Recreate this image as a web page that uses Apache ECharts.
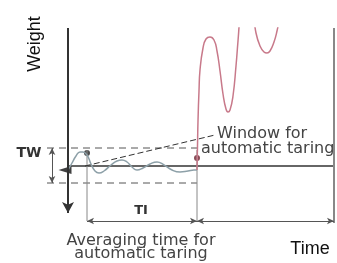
<!DOCTYPE html>
<html lang="en">
<head>
  <meta charset="UTF-8">
  <title>Automatic taring</title>
</head>
<body style="margin:0; background-color:#fff;">
<div id="main" style="width:337px; height:263px;"></div>

<script src="https://cdn.jsdelivr.net/npm/echarts@6/dist/echarts.min.js"></script>

<script>
// x = time, y = weight (baseline / tare level = 0)
var grayWave = [
  [0, -4], [4, 3], [8, 10], [12, 14], [15, 14], [19, 11], [23, 2], [27, -5], [31, -7],
  [36, -5], [43, 1], [49, 5], [54, 6], [59, 4], [64, -1], [69, -4], [75, -2], [82, 2],
  [89, 4], [96, 1], [104, -4], [112, -6], [120, -5], [126, -4], [129, -4]
];
var loadCurve = [
  [129, -4], [129.5, 20], [130, 45], [131, 75], [132, 96], [135, 118], [138, 127], [142, 129],
  [146, 126], [149, 115], [152, 95], [155, 72], [158, 57], [160, 54], [162, 56], [165, 70],
  [168, 100], [170, 125], [173, 160], [177, 182], [181, 182], [185, 155], [188, 133], [192, 120],
  [196, 114], [199, 113], [202, 115], [206, 124], [209, 135], [212, 150], [216, 175]
];
var tareBand = [18, -17];     // window for automatic taring (TW)
var windowStart = 19;         // start of averaging time (TI)
var windowEnd = 129;          // end of averaging time
var timeEnd = 266;
var axisTop = 138;
var axisBottom = -47;
var spanLevel = -55;
var startDot = [19, 13];
var endDot = [129, 8];
var tareMark = [-3, -4];
var leader = [[17, 0], [147, 31]];

function seg(name, pts, color, width, type) {
  return {
    name: name, type: 'line', data: pts, symbol: 'none', silent: true,
    lineStyle: { color: color, width: width, type: type || 'solid' }
  };
}

var chart = echarts.init(document.getElementById('main'));

var option = {
  backgroundColor: '#fff',
  animation: false,
  grid: { left: 43, right: 3, top: 28, bottom: 37 },
  xAxis: {
    type: 'value', min: -25, max: timeEnd,
    axisLine: { show: false }, axisTick: { show: false },
    axisLabel: { show: false }, splitLine: { show: false }
  },
  yAxis: {
    type: 'value', min: -60, max: axisTop,
    axisLine: { show: false }, axisTick: { show: false },
    axisLabel: { show: false }, splitLine: { show: false }
  },
  series: [
    seg('baseline', [[0, 0], [timeEnd, 0]], '#333', 1.5),
    seg('twTop', [[-21, tareBand[0]], [windowEnd, tareBand[0]]], '#555', 1, [7, 5]),
    seg('twBottom', [[-21, tareBand[1]], [windowEnd, tareBand[1]]], '#555', 1, [7, 5]),
    seg('tiStart', [[windowStart, 16], [windowStart, spanLevel]], '#888', 1),
    seg('tiEnd', [[windowEnd, 16], [windowEnd, spanLevel]], '#888', 1),
    seg('rightEdge', [[timeEnd, axisTop], [timeEnd, -57]], '#888', 2),
    seg('leader', leader, '#333', 1, [6, 3]),
    {
      name: 'signal', type: 'line', data: grayWave, symbol: 'none', smooth: true,
      lineStyle: { color: '#8da0a8', width: 1.5 }
    },
    {
      name: 'load', type: 'line', data: loadCurve, symbol: 'none', smooth: true, clip: true,
      lineStyle: { color: '#c8798a', width: 1.5 }
    },
    {
      name: 'dots', type: 'scatter', symbolSize: 6,
      data: [
        { value: startDot, itemStyle: { color: '#222' } },
        { value: endDot, itemStyle: { color: '#6e1f2e' } }
      ]
    },
    {
      name: 'tare', type: 'scatter', symbol: 'triangle', symbolRotate: 90,
      symbolSize: [8, 13], itemStyle: { color: '#111' },
      data: [tareMark]
    },
    {
      name: 'arrows', type: 'line', data: [], symbol: 'none',
      markLine: {
        silent: true, animation: false,
        label: { show: false },
        symbol: ['arrow', 'arrow'], symbolSize: [5, 7],
        lineStyle: { color: '#555', width: 1, type: 'solid' },
        data: [
          [{ coord: [windowStart, spanLevel] }, { coord: [windowEnd, spanLevel] }],
          [{ coord: [windowEnd, spanLevel] }, { coord: [timeEnd, spanLevel] }],
          [{ coord: [-16, tareBand[0]] }, { coord: [-16, tareBand[1]] }],
          [{ coord: [0, axisBottom], symbol: 'arrow', symbolSize: [9, 11] },
           { coord: [0, axisTop], symbol: 'none', lineStyle: { color: '#333', width: 2 } }]
        ]
      }
    }
  ],
  graphic: [
    { type: 'text', x: 35, y: 44, rotation: Math.PI / 2,
      style: { text: 'Weight', font: '18px "Liberation Sans"', fill: '#111', textAlign: 'center', textVerticalAlign: 'middle' } },
    { type: 'text', x: 310, y: 249,
      style: { text: 'Time', font: '18px "Liberation Sans"', fill: '#111', textAlign: 'center', textVerticalAlign: 'middle' } },
    { type: 'text', x: 29, y: 153,
      style: { text: 'TW', font: 'bold 14px "DejaVu Sans"', fill: '#333', textAlign: 'center', textVerticalAlign: 'middle' } },
    { type: 'text', x: 141, y: 211,
      style: { text: 'TI', font: 'bold 13px "DejaVu Sans"', fill: '#333', textAlign: 'center', textVerticalAlign: 'middle' } },
    { type: 'text', x: 217, y: 134,
      style: { text: 'Window for', font: '16px "DejaVu Sans"', fill: '#444', textAlign: 'left', textVerticalAlign: 'middle' } },
    { type: 'text', x: 201, y: 149,
      style: { text: 'automatic taring', font: '16px "DejaVu Sans"', fill: '#444', textAlign: 'left', textVerticalAlign: 'middle' } },
    { type: 'text', x: 141, y: 241,
      style: { text: 'Averaging time for', font: '16px "DejaVu Sans"', fill: '#444', textAlign: 'center', textVerticalAlign: 'middle' } },
    { type: 'text', x: 141, y: 254,
      style: { text: 'automatic taring', font: '16px "DejaVu Sans"', fill: '#444', textAlign: 'center', textVerticalAlign: 'middle' } }
  ]
};

chart.setOption(option);
</script>
</body>
</html>
